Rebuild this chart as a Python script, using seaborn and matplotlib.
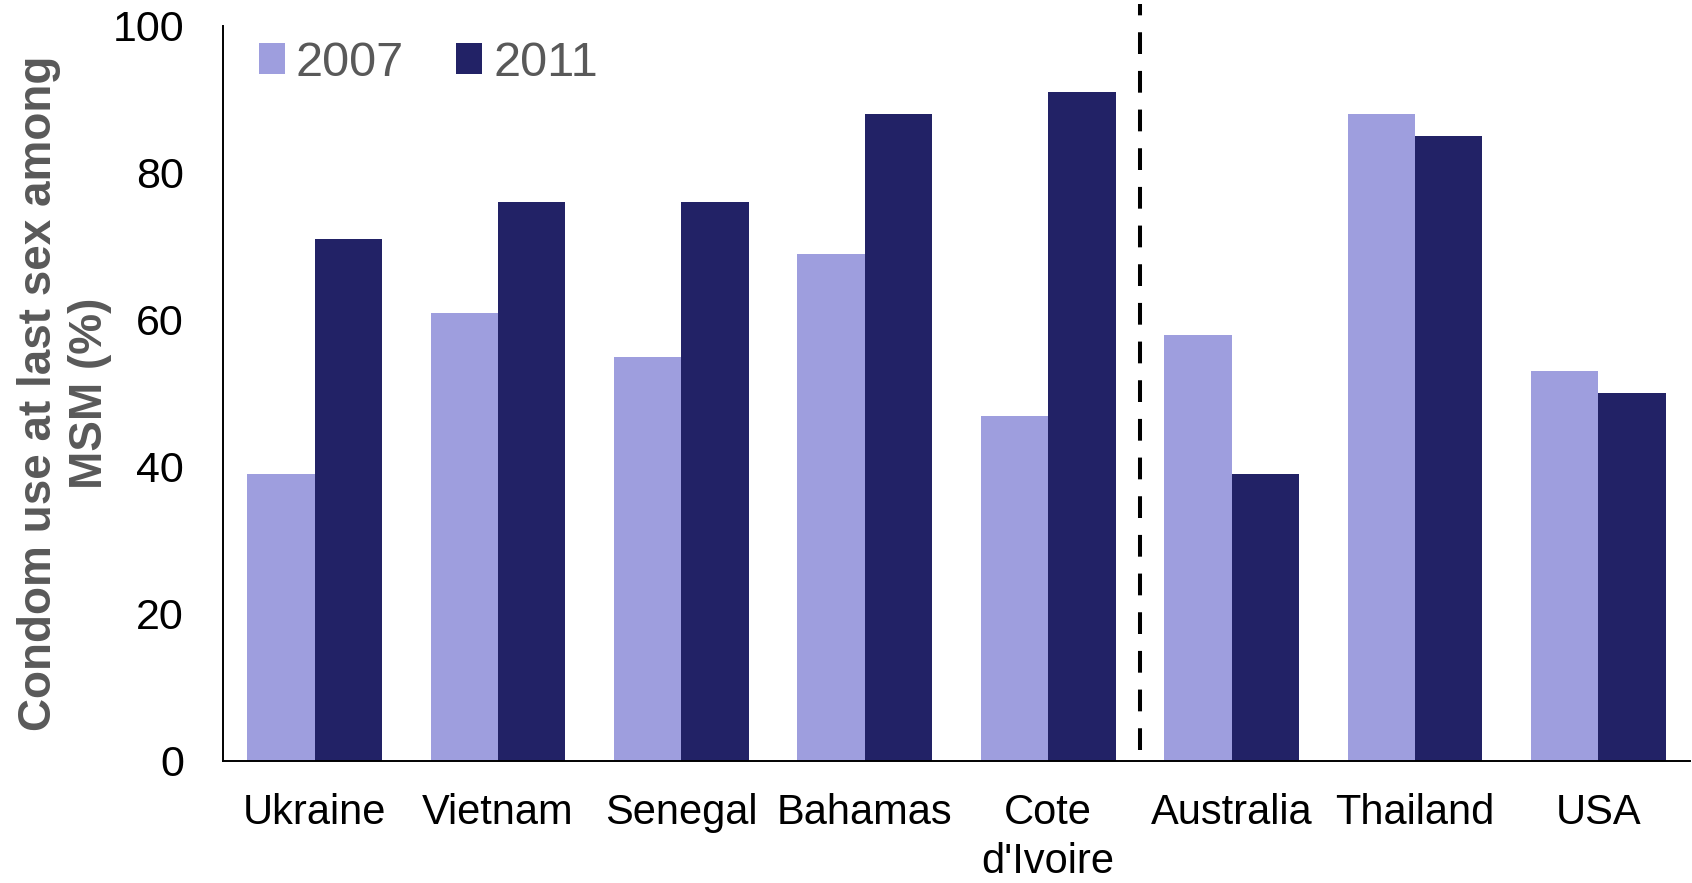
import matplotlib
matplotlib.use("Agg")
import matplotlib.pyplot as plt
import seaborn as sns
import pandas as pd

countries = ["Ukraine", "Vietnam", "Senegal", "Bahamas", "Cote\nd'Ivoire",
             "Australia", "Thailand", "USA"]
years = ["2007", "2011"]
use_2007 = [39, 61, 55, 69, 47, 58, 88, 53]
use_2011 = [71, 76, 76, 88, 91, 39, 85, 50]
y_ticks = [0, 20, 40, 60, 80, 100]

colors = {"2007": "#9e9ede", "2011": "#222266"}

df = pd.DataFrame({
    "country": countries * 2,
    "year": [years[0]] * len(countries) + [years[1]] * len(countries),
    "value": use_2007 + use_2011,
})

sns.set_theme(style="white")
plt.rcParams["font.family"] = ["Liberation Sans", "DejaVu Sans"]

fig = plt.figure(figsize=(16.92, 8.83), dpi=100)
ax = fig.add_axes([0.1318, 0.1382, 0.8670, 0.8324])

sns.barplot(data=df, x="country", y="value", hue="year", order=countries,
            hue_order=years, palette=colors, width=0.735, saturation=1,
            linewidth=0, ax=ax)

ax.set_xlim(-0.5, len(countries) - 0.5)
ax.set_ylim(0, 100)
ax.set_yticks(y_ticks)
ax.tick_params(axis="y", length=0, pad=28, labelsize=31, labelcolor="black")
ax.tick_params(axis="x", length=0, pad=23, labelsize=30, labelcolor="black")
for lbl in ax.get_xticklabels():
    lbl.set_linespacing(1.3)

for side in ["top", "right"]:
    ax.spines[side].set_visible(False)
for side in ["left", "bottom"]:
    ax.spines[side].set_color("black")
    ax.spines[side].set_linewidth(1.4)

ax.set_xlabel("")
ax.set_ylabel("Condom use at last sex among\nMSM (%)", fontsize=33,
              fontweight="bold", color="#595959", linespacing=1.2)
ax.yaxis.set_label_coords(-0.076, 0.5)

# separator between the two country groups
ax.plot([4.5, 4.5], [1.5, 103], color="black", linewidth=2.9,
        linestyle=(0, (5.4, 4.2)), clip_on=False, zorder=5)

leg = ax.legend(loc="upper left", bbox_to_anchor=(0.0245, 0.98), ncol=2,
                frameon=False, fontsize=35, handlelength=0.53,
                handleheight=0.62, handletextpad=0.23, columnspacing=1.07,
                borderaxespad=0, borderpad=0)
for t in leg.get_texts():
    t.set_color("#595959")

fig.savefig("out.png", dpi=100)
